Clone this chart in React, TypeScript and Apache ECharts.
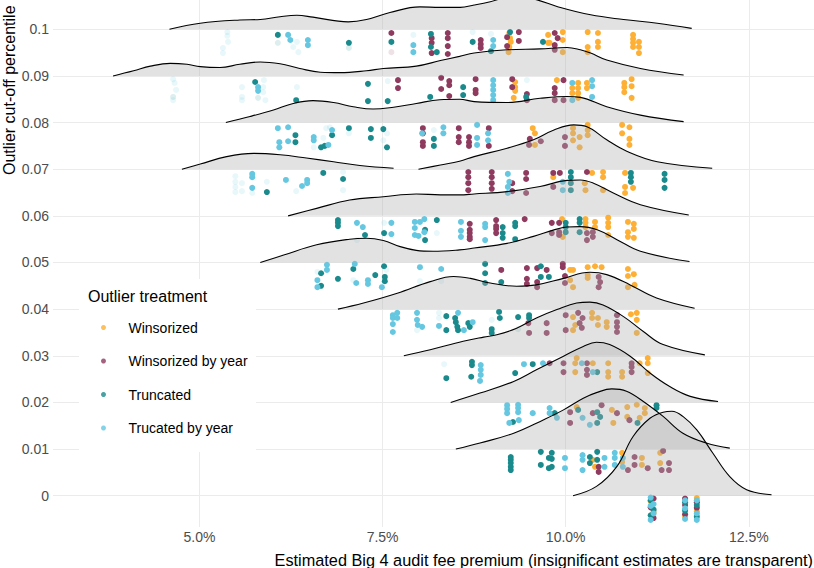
import React, { useEffect, useRef } from "react";
import * as echarts from "echarts";

const FONT = "'Liberation Sans', Arial, Helvetica, sans-serif";

// Outlier cut-off levels (rows), top to bottom
const levels = [0.1, 0.09, 0.08, 0.07, 0.06, 0.05, 0.04, 0.03, 0.02, 0.01, 0];
const levelLabels = ["0.1", "0.09", "0.08", "0.07", "0.06", "0.05", "0.04", "0.03", "0.02", "0.01", "0"];
const xTicks = [5, 7.5, 10, 12.5];

const treatments = ["Winsorized", "Winsorized by year", "Truncated", "Trucated by year"];
const treatmentColors = ["#FDB035", "#8F3B5F", "#1B8A8C", "#65C7E0"];

// Ridge densities: [estimate (%), height in row units]; null = density cut off
const density010 = [[4.59, 0], [5.01, 0.13], [5.55, 0.20], [5.83, 0.21], [6.10, 0.27], [6.33, 0.30], [6.55, 0.26], [7.03, 0.16], [7.28, 0.21], [7.60, 0.36], [8.01, 0.48], [8.28, 0.47], [8.56, 0.47], [8.75, 0.52], [8.97, 0.59], [9.3, 0.72], [9.61, 0.63], [9.88, 0.49], [10.34, 0.31], [10.79, 0.21], [11.25, 0.13], [11.72, 0.02]];
const density009 = [[3.82, 0], [4.10, 0.11], [4.33, 0.21], [4.60, 0.27], [4.83, 0.25], [5.01, 0.20], [5.28, 0.18], [5.55, 0.25], [5.83, 0.30], [6.10, 0.26], [6.37, 0.16], [6.65, 0.08], [6.92, 0.07], [7.28, 0.11], [7.51, 0.16], [7.96, 0.21], [8.29, 0.33], [8.55, 0.42], [8.75, 0.49], [9.20, 0.56], [9.65, 0.58], [10.02, 0.61], [10.20, 0.56], [10.34, 0.49], [10.56, 0.34], [11.02, 0.16], [11.61, 0.02]];
const density008 = [[5.36, 0], [5.69, 0.13], [6.01, 0.27], [6.28, 0.41], [6.55, 0.47], [6.83, 0.43], [7.10, 0.34], [7.37, 0.29], [7.65, 0.33], [7.96, 0.41], [8.28, 0.49], [8.55, 0.50], [8.75, 0.45], [9.20, 0.43], [9.65, 0.52], [10.02, 0.56], [10.20, 0.54], [10.56, 0.34], [11.02, 0.16], [11.61, 0.02]];
const density007 = [[4.76, 0], [5.01, 0.11], [5.37, 0.27], [5.74, 0.34], [6.10, 0.31], [6.46, 0.24], [6.83, 0.16], [7.19, 0.08], [7.65, 0.02], [7.82, null], [7.99, 0], [8.29, 0.09], [8.55, 0.17], [8.75, 0.27], [9.20, 0.45], [9.56, 0.63], [9.84, 0.84], [10.11, 0.95], [10.29, 0.91], [10.56, 0.63], [10.84, 0.38], [11.25, 0.16], [12.0, 0.02]];
const density006 = [[6.21, 0], [6.60, 0.16], [7.05, 0.34], [7.51, 0.41], [7.96, 0.47], [8.29, 0.45], [8.55, 0.45], [8.75, 0.47], [9.20, 0.52], [9.65, 0.63], [10.02, 0.76], [10.20, 0.77], [10.38, 0.70], [10.65, 0.49], [11.02, 0.24], [11.68, 0.02]];
const density005 = [[5.83, 0], [6.15, 0.16], [6.60, 0.38], [7.05, 0.50], [7.28, 0.52], [7.51, 0.47], [7.74, 0.34], [7.96, 0.26], [8.19, 0.24], [8.55, 0.27], [8.75, 0.31], [9.20, 0.41], [9.56, 0.56], [9.84, 0.70], [10.02, 0.76], [10.20, 0.77], [10.43, 0.70], [10.70, 0.49], [11.02, 0.24], [11.69, 0.02]];
const density004 = [[6.89, 0], [7.24, 0.13], [7.70, 0.34], [8.15, 0.59], [8.47, 0.70], [8.70, 0.66], [8.97, 0.56], [9.33, 0.49], [9.60, 0.52], [9.97, 0.66], [10.33, 0.79], [10.56, 0.74], [10.88, 0.52], [11.24, 0.24], [11.76, 0.02]];
const density003 = [[7.79, 0], [8.15, 0.13], [8.60, 0.31], [8.88, 0.40], [9.06, 0.45], [9.33, 0.59], [9.60, 0.81], [9.88, 0.99], [10.15, 1.13], [10.33, 1.15], [10.51, 1.09], [10.79, 0.84], [11.06, 0.52], [11.33, 0.24], [11.90, 0.02]];
const density002 = [[8.43, 0], [8.83, 0.20], [9.29, 0.45], [9.60, 0.70], [9.97, 0.99], [10.24, 1.20], [10.42, 1.29], [10.60, 1.24], [10.88, 0.99], [11.15, 0.63], [11.42, 0.34], [11.70, 0.13], [12.08, 0.02]];
const density001 = [[8.50, 0], [8.83, 0.13], [9.29, 0.34], [9.70, 0.63], [9.97, 0.84], [10.24, 1.09], [10.42, 1.21], [10.63, 1.29], [10.83, 1.24], [11.06, 1.02], [11.33, 0.70], [11.60, 0.34], [11.92, 0.13], [12.24, 0.02]];
const density000 = [[10.10, 0], [10.42, 0.20], [10.70, 0.63], [10.92, 1.27], [11.15, 1.66], [11.33, 1.79], [11.45, 1.81], [11.60, 1.70], [11.79, 1.41], [12.01, 0.91], [12.24, 0.41], [12.47, 0.13], [12.81, 0.02]];
const densities = [density010, density009, density008, density007, density006, density005, density004, density003, density002, density001, density000];

// Estimates: [cut-off level, estimate (%), jitter depth below row (row units), significant 1/0]
const winsorized = [
  [0.1, 9.23, 0.08, 1], [0.1, 9.24, 0.19, 1], [0.1, 9.25, 0.27, 1], [0.1, 9.23, 0.38, 1], [0.1, 9.22, 0.49, 1], [0.1, 9.76, 0.12, 1], [0.1, 9.76, 0.29, 1], [0.1, 9.96, 0.06, 1], [0.1, 9.96, 0.23, 1], [0.1, 9.78, 0.29, 1], [0.1, 9.96, 0.49, 1], [0.1, 10.30, 0.06, 1], [0.1, 10.30, 0.38, 1], [0.1, 10.30, 0.49, 1], [0.1, 10.44, 0.08, 1], [0.1, 10.44, 0.27, 1], [0.1, 10.44, 0.38, 1], [0.1, 10.92, 0.12, 1], [0.1, 10.92, 0.21, 1], [0.1, 10.92, 0.29, 1], [0.1, 10.92, 0.38, 1], [0.1, 11.00, 0.27, 1], [0.1, 11.00, 0.38, 1], [0.1, 11.00, 0.51, 1],
  [0.09, 9.31, 0.13, 1], [0.09, 9.31, 0.24, 1], [0.09, 9.31, 0.32, 1], [0.09, 9.29, 0.47, 1], [0.09, 9.88, 0.09, 1], [0.09, 10.09, 0.26, 1], [0.09, 10.09, 0.37, 1], [0.09, 10.17, 0.15, 1], [0.09, 10.17, 0.26, 1], [0.09, 10.17, 0.37, 1], [0.09, 10.17, 0.47, 1], [0.09, 10.29, 0.15, 1], [0.09, 10.29, 0.26, 1], [0.09, 10.80, 0.15, 1], [0.09, 10.80, 0.24, 1], [0.09, 10.80, 0.35, 1], [0.09, 10.90, 0.07, 1], [0.09, 10.90, 0.22, 1], [0.09, 10.90, 0.47, 1],
  [0.08, 9.55, 0.12, 1], [0.08, 9.58, 0.23, 1], [0.08, 9.58, 0.48, 1], [0.08, 10.10, 0.12, 1], [0.08, 10.10, 0.23, 1], [0.08, 10.10, 0.38, 1], [0.08, 10.19, 0.31, 1], [0.08, 10.19, 0.53, 1], [0.08, 10.30, 0.05, 1], [0.08, 10.30, 0.16, 1], [0.08, 10.30, 0.27, 1], [0.08, 10.77, 0.05, 1], [0.08, 10.77, 0.23, 1], [0.08, 10.87, 0.10, 1], [0.08, 10.87, 0.35, 1], [0.08, 10.87, 0.48, 1],
  [0.07, 9.83, 0.17, 1], [0.07, 10.36, 0.08, 1], [0.07, 10.26, 0.30, 1], [0.07, 10.27, 0.45, 1], [0.07, 10.51, 0.06, 1], [0.07, 10.51, 0.17, 1], [0.07, 10.51, 0.45, 1], [0.07, 10.81, 0.08, 1], [0.07, 10.81, 0.38, 1], [0.07, 10.81, 0.51, 1], [0.07, 10.92, 0.40, 1],
  [0.06, 9.95, 0.07, 1], [0.06, 9.96, 0.45, 1], [0.06, 10.27, 0.07, 1], [0.06, 10.27, 0.15, 1], [0.06, 10.27, 0.24, 1], [0.06, 10.40, 0.13, 1], [0.06, 10.40, 0.24, 1], [0.06, 10.58, 0.04, 1], [0.06, 10.58, 0.15, 1], [0.06, 10.58, 0.24, 1], [0.06, 10.58, 0.41, 1], [0.06, 10.85, 0.13, 1], [0.06, 10.85, 0.35, 1], [0.06, 10.85, 0.45, 1], [0.06, 10.93, 0.17, 1], [0.06, 10.93, 0.28, 1], [0.06, 10.93, 0.47, 1],
  [0.05, 10.06, 0.16, 1], [0.05, 10.10, 0.16, 1], [0.05, 10.06, 0.38, 1], [0.05, 10.10, 0.53, 1], [0.05, 10.30, 0.10, 1], [0.05, 10.30, 0.27, 1], [0.05, 10.30, 0.33, 1], [0.05, 10.40, 0.08, 1], [0.05, 10.49, 0.10, 1], [0.05, 10.85, 0.14, 1], [0.05, 10.85, 0.29, 1], [0.05, 10.85, 0.53, 1], [0.05, 10.93, 0.25, 1], [0.05, 10.94, 0.48, 1],
  [0.04, 10.10, 0.17, 1], [0.04, 10.13, 0.34, 1], [0.04, 10.10, 0.45, 1], [0.04, 10.36, 0.08, 1], [0.04, 10.36, 0.19, 1], [0.04, 10.44, 0.19, 1], [0.04, 10.44, 0.34, 1], [0.04, 10.56, 0.28, 1], [0.04, 10.56, 0.38, 1], [0.04, 10.89, 0.11, 1], [0.04, 10.97, 0.08, 1], [0.04, 10.97, 0.23, 1], [0.04, 10.97, 0.51, 1],
  [0.03, 10.15, 0.05, 1], [0.03, 10.13, 0.16, 1], [0.03, 10.13, 0.35, 1], [0.03, 10.37, 0.16, 1], [0.03, 10.58, 0.16, 1], [0.03, 10.58, 0.35, 1], [0.03, 10.58, 0.45, 1], [0.03, 10.77, 0.35, 1], [0.03, 10.77, 0.45, 1], [0.03, 11.01, 0.16, 1], [0.03, 11.12, 0.05, 1], [0.03, 11.12, 0.16, 1], [0.03, 11.12, 0.37, 1],
  [0.02, 10.15, 0.10, 1], [0.02, 10.63, 0.16, 1], [0.02, 10.65, 0.44, 1], [0.02, 10.84, 0.10, 1], [0.02, 10.84, 0.31, 1], [0.02, 10.97, 0.05, 1], [0.02, 11.08, 0.12, 1], [0.02, 11.08, 0.23, 1], [0.02, 11.01, 0.33, 1],
  [0.01, 10.37, 0.23, 1], [0.01, 10.40, 0.38, 1], [0.01, 10.77, 0.08, 1], [0.01, 10.77, 0.28, 1], [0.01, 11.04, 0.19, 1], [0.01, 11.04, 0.34, 1], [0.01, 11.29, 0.08, 1], [0.01, 11.29, 0.30, 1],
  [0, 11.16, 0.12, 1], [0, 11.20, 0.35, 1], [0, 11.63, 0.08, 1], [0, 11.63, 0.45, 1], [0, 11.79, 0.05, 1], [0, 11.79, 0.34, 1],
];
const winsorizedByYear = [
  [0.1, 7.62, 0.08, 1], [0.1, 7.62, 0.49, 0], [0.1, 8.17, 0.19, 1], [0.1, 8.17, 0.29, 1], [0.1, 8.17, 0.51, 1], [0.1, 8.39, 0.08, 1], [0.1, 8.39, 0.19, 1], [0.1, 8.39, 0.36, 1], [0.1, 8.39, 0.53, 1], [0.1, 8.84, 0.23, 1], [0.1, 8.84, 0.32, 1], [0.1, 8.84, 0.40, 1], [0.1, 9.20, 0.17, 1], [0.1, 9.20, 0.36, 1], [0.1, 9.36, 0.06, 1], [0.1, 9.36, 0.25, 1], [0.1, 9.85, 0.08, 1], [0.1, 9.89, 0.19, 1], [0.1, 9.85, 0.34, 1], [0.1, 9.85, 0.44, 1],
  [0.09, 7.71, 0.09, 1], [0.09, 7.71, 0.26, 1], [0.09, 8.30, 0.04, 1], [0.09, 8.30, 0.28, 1], [0.09, 8.41, 0.11, 1], [0.09, 8.41, 0.20, 1], [0.09, 8.41, 0.43, 1], [0.09, 8.77, 0.07, 1], [0.09, 8.77, 0.30, 1], [0.09, 8.77, 0.37, 1], [0.09, 9.27, 0.07, 1], [0.09, 9.27, 0.24, 1], [0.09, 9.47, 0.39, 1], [0.09, 9.47, 0.52, 1], [0.09, 9.97, 0.09, 1], [0.09, 9.85, 0.26, 1], [0.09, 9.85, 0.37, 1], [0.09, 9.85, 0.52, 1], [0.09, 9.97, 0.52, 1],
  [0.08, 8.05, 0.12, 1], [0.08, 8.05, 0.23, 1], [0.08, 8.05, 0.42, 1], [0.08, 8.05, 0.50, 1], [0.08, 8.54, 0.12, 1], [0.08, 8.54, 0.31, 1], [0.08, 8.54, 0.42, 1], [0.08, 8.68, 0.31, 1], [0.08, 8.68, 0.42, 1], [0.08, 8.68, 0.50, 1], [0.08, 8.95, 0.12, 1], [0.08, 8.95, 0.50, 1], [0.08, 9.51, 0.35, 1], [0.08, 9.50, 0.48, 1], [0.08, 9.66, 0.40, 1], [0.08, 9.99, 0.31, 1], [0.08, 9.99, 0.50, 1],
  [0.07, 8.67, 0.06, 1], [0.07, 8.67, 0.17, 1], [0.07, 8.67, 0.30, 1], [0.07, 8.67, 0.45, 1], [0.07, 8.99, 0.06, 1], [0.07, 8.99, 0.17, 1], [0.07, 8.99, 0.30, 1], [0.07, 8.99, 0.42, 1], [0.07, 9.27, 0.30, 1], [0.07, 9.27, 0.47, 1], [0.07, 9.46, 0.08, 1], [0.07, 9.46, 0.21, 1], [0.07, 9.46, 0.51, 1], [0.07, 9.83, 0.08, 1], [0.07, 9.92, 0.08, 1], [0.07, 9.83, 0.38, 1], [0.07, 10.29, 0.06, 1],
  [0.06, 8.69, 0.17, 1], [0.06, 8.69, 0.30, 1], [0.06, 8.69, 0.37, 1], [0.06, 8.69, 0.45, 1], [0.06, 8.69, 0.50, 1], [0.06, 9.05, 0.09, 1], [0.06, 9.05, 0.22, 1], [0.06, 9.05, 0.28, 1], [0.06, 9.05, 0.37, 1], [0.06, 9.44, 0.07, 1], [0.06, 9.81, 0.15, 1], [0.06, 9.81, 0.37, 1], [0.06, 9.91, 0.15, 1], [0.06, 9.91, 0.35, 1], [0.06, 9.91, 0.41, 1], [0.06, 10.29, 0.37, 1], [0.06, 10.29, 0.52, 1], [0.06, 10.37, 0.35, 1], [0.06, 10.37, 0.45, 1],
  [0.05, 9.12, 0.16, 1], [0.05, 9.47, 0.12, 1], [0.05, 9.47, 0.35, 1], [0.05, 9.47, 0.46, 1], [0.05, 9.61, 0.12, 1], [0.05, 9.61, 0.42, 1], [0.05, 9.61, 0.53, 1], [0.05, 9.74, 0.16, 1], [0.05, 9.96, 0.03, 1], [0.05, 9.96, 0.10, 1], [0.05, 9.99, 0.29, 1], [0.05, 9.99, 0.44, 1], [0.05, 10.45, 0.31, 1], [0.05, 10.47, 0.42, 1], [0.05, 10.45, 0.53, 1],
  [0.04, 9.49, 0.30, 1], [0.04, 9.50, 0.51, 1], [0.04, 9.74, 0.30, 1], [0.04, 9.74, 0.51, 1], [0.04, 10.00, 0.13, 1], [0.04, 10.17, 0.08, 1], [0.04, 10.23, 0.19, 1], [0.04, 10.19, 0.30, 1], [0.04, 10.22, 0.40, 1], [0.04, 10.00, 0.45, 1], [0.04, 10.70, 0.13, 1], [0.04, 10.70, 0.28, 1], [0.04, 10.70, 0.38, 1], [0.04, 10.70, 0.49, 1],
  [0.03, 9.78, 0.16, 1], [0.03, 9.97, 0.16, 1], [0.03, 9.97, 0.35, 1], [0.03, 10.29, 0.16, 1], [0.03, 10.29, 0.30, 1], [0.03, 10.29, 0.41, 1], [0.03, 10.90, 0.16, 1], [0.03, 10.90, 0.24, 1], [0.03, 10.90, 0.35, 1],
  [0.02, 10.06, 0.21, 1], [0.02, 10.06, 0.44, 1], [0.02, 10.37, 0.23, 1], [0.02, 10.70, 0.23, 1], [0.02, 10.49, 0.06, 1], [0.02, 10.87, 0.38, 1],
  [0.01, 10.45, 0.38, 1], [0.01, 10.45, 0.49, 1], [0.01, 10.85, 0.45, 1], [0.01, 10.94, 0.17, 1], [0.01, 10.94, 0.34, 1], [0.01, 11.12, 0.41, 1], [0.01, 11.33, 0.04, 1], [0.01, 11.31, 0.45, 1], [0.01, 11.41, 0.30, 1], [0.01, 11.41, 0.45, 1],
  [0, 11.20, 0.06, 1], [0, 11.16, 0.25, 1], [0, 11.20, 0.48, 1], [0, 11.63, 0.06, 1], [0, 11.63, 0.20, 1], [0, 11.63, 0.40, 1], [0, 11.79, 0.14, 1], [0, 11.79, 0.26, 1],
];
const truncated = [
  [0.1, 6.07, 0.12, 1], [0.1, 6.07, 0.29, 0], [0.1, 7.04, 0.29, 1], [0.1, 7.04, 0.40, 0], [0.1, 7.62, 0.27, 1], [0.1, 8.16, 0.10, 1], [0.1, 8.16, 0.38, 1], [0.1, 8.24, 0.49, 1], [0.1, 8.73, 0.27, 1], [0.1, 8.98, 0.47, 1], [0.1, 9.24, 0.06, 1], [0.1, 9.69, 0.27, 1],
  [0.09, 4.64, 0.45, 0], [0.09, 5.76, 0.13, 1], [0.09, 5.80, 0.47, 0], [0.09, 6.32, 0.52, 1], [0.09, 7.30, 0.17, 1], [0.09, 7.30, 0.54, 1], [0.09, 7.57, 0.54, 1], [0.09, 8.15, 0.45, 1], [0.09, 8.60, 0.24, 1], [0.09, 8.60, 0.41, 1], [0.09, 9.46, 0.45, 1],
  [0.08, 6.31, 0.27, 1], [0.08, 6.31, 0.42, 1], [0.08, 6.66, 0.53, 1], [0.08, 6.71, 0.50, 1], [0.08, 6.81, 0.27, 1], [0.08, 7.04, 0.12, 1], [0.08, 7.34, 0.14, 1], [0.08, 7.34, 0.33, 1], [0.08, 7.51, 0.14, 1], [0.08, 7.56, 0.53, 1], [0.08, 8.20, 0.35, 1], [0.08, 8.20, 0.50, 1],
  [0.07, 5.92, 0.49, 1], [0.07, 6.69, 0.08, 1], [0.07, 6.96, 0.21, 1], [0.07, 10.07, 0.06, 1], [0.07, 10.07, 0.17, 1], [0.07, 10.07, 0.30, 1], [0.07, 10.07, 0.45, 1], [0.07, 10.89, 0.08, 1], [0.07, 10.89, 0.17, 1], [0.07, 10.89, 0.27, 1], [0.07, 11.35, 0.10, 1], [0.07, 11.35, 0.23, 1], [0.07, 11.35, 0.40, 1],
  [0.06, 6.89, 0.09, 1], [0.06, 6.89, 0.15, 1], [0.06, 6.89, 0.22, 1], [0.06, 7.26, 0.41, 1], [0.06, 7.52, 0.37, 1], [0.06, 8.08, 0.30, 1], [0.06, 8.08, 0.52, 1], [0.06, 8.24, 0.09, 1], [0.06, 9.14, 0.24, 1], [0.06, 9.14, 0.37, 1], [0.06, 9.14, 0.47, 1], [0.06, 9.31, 0.15, 1], [0.06, 9.31, 0.22, 1], [0.06, 9.31, 0.50, 1], [0.06, 10.00, 0.15, 1], [0.06, 10.00, 0.24, 1], [0.06, 10.00, 0.35, 1], [0.06, 10.19, 0.07, 1], [0.06, 10.19, 0.15, 1], [0.06, 10.19, 0.35, 1],
  [0.05, 6.66, 0.23, 1], [0.05, 6.66, 0.50, 1], [0.05, 6.89, 0.35, 1], [0.05, 7.10, 0.14, 1], [0.05, 7.40, 0.27, 1], [0.05, 7.52, 0.08, 1], [0.05, 7.53, 0.31, 1], [0.05, 7.53, 0.40, 1], [0.05, 8.90, 0.03, 1], [0.05, 8.90, 0.23, 1], [0.05, 8.90, 0.44, 1], [0.05, 9.12, 0.42, 1], [0.05, 9.66, 0.08, 1], [0.05, 9.66, 0.31, 1], [0.05, 9.77, 0.31, 1],
  [0.04, 8.37, 0.15, 1], [0.04, 8.37, 0.45, 1], [0.04, 8.49, 0.19, 1], [0.04, 8.50, 0.28, 1], [0.04, 8.52, 0.38, 1], [0.04, 8.53, 0.45, 1], [0.04, 8.67, 0.30, 1], [0.04, 8.69, 0.38, 1], [0.04, 8.99, 0.43, 1], [0.04, 8.99, 0.51, 1], [0.04, 9.09, 0.06, 1], [0.04, 9.10, 0.19, 1], [0.04, 9.35, 0.17, 1], [0.04, 9.50, 0.13, 1], [0.04, 9.50, 0.19, 1], [0.04, 9.35, 0.43, 0],
  [0.03, 8.37, 0.48, 1], [0.03, 8.72, 0.13, 1], [0.03, 8.72, 0.20, 1], [0.03, 8.71, 0.45, 1], [0.03, 9.31, 0.37, 1], [0.03, 9.55, 0.18, 1], [0.03, 10.43, 0.35, 1],
  [0.02, 9.28, 0.42, 1], [0.02, 9.85, 0.23, 1], [0.02, 10.17, 0.16, 1], [0.02, 10.43, 0.21, 1], [0.02, 10.47, 0.31, 1], [0.02, 10.43, 0.44, 1], [0.02, 10.98, 0.44, 1], [0.02, 11.24, 0.06, 1], [0.02, 11.24, 0.12, 1],
  [0.01, 9.25, 0.17, 1], [0.01, 9.25, 0.23, 1], [0.01, 9.25, 0.30, 1], [0.01, 9.25, 0.38, 1], [0.01, 9.25, 0.45, 1], [0.01, 9.66, 0.06, 1], [0.01, 9.66, 0.34, 1], [0.01, 9.77, 0.19, 1], [0.01, 9.77, 0.41, 1], [0.01, 9.81, 0.08, 1], [0.01, 9.81, 0.21, 1], [0.01, 9.81, 0.38, 1], [0.01, 10.33, 0.17, 1], [0.01, 10.33, 0.30, 1], [0.01, 10.43, 0.06, 1], [0.01, 10.43, 0.23, 1],
  [0, 11.16, 0.10, 1], [0, 11.20, 0.30, 1], [0, 11.16, 0.42, 1], [0, 11.63, 0.14, 1], [0, 11.63, 0.32, 1], [0, 11.79, 0.20, 1], [0, 11.79, 0.45, 1],
];
const truncatedByYear = [
  [0.1, 5.38, 0.06, 0], [0.1, 5.38, 0.14, 0], [0.1, 5.39, 0.27, 0], [0.1, 5.32, 0.40, 0], [0.1, 5.32, 0.51, 0], [0.1, 6.21, 0.12, 1], [0.1, 6.24, 0.23, 1], [0.1, 6.28, 0.38, 0], [0.1, 6.35, 0.49, 0], [0.1, 6.33, 0.27, 0], [0.1, 6.48, 0.23, 1], [0.1, 6.48, 0.34, 1], [0.1, 7.92, 0.12, 0], [0.1, 7.92, 0.34, 1], [0.1, 7.92, 0.49, 1], [0.1, 8.73, 0.06, 0], [0.1, 8.98, 0.10, 0], [0.1, 9.01, 0.23, 1], [0.1, 9.01, 0.36, 1],
  [0.09, 4.64, 0.07, 0], [0.09, 4.66, 0.15, 0], [0.09, 4.68, 0.30, 0], [0.09, 4.64, 0.52, 0], [0.09, 5.80, 0.24, 1], [0.09, 5.80, 0.32, 1], [0.09, 5.58, 0.24, 0], [0.09, 5.58, 0.45, 0], [0.09, 5.58, 0.52, 0], [0.09, 5.87, 0.24, 0], [0.09, 5.87, 0.35, 0], [0.09, 5.90, 0.52, 0], [0.09, 5.88, 0.09, 0], [0.09, 6.33, 0.24, 0], [0.09, 7.57, 0.11, 0], [0.09, 9.01, 0.09, 1], [0.09, 9.01, 0.20, 1], [0.09, 9.01, 0.30, 1], [0.09, 9.01, 0.41, 1], [0.09, 9.01, 0.52, 1], [0.09, 9.47, 0.09, 0], [0.09, 10.09, 0.15, 1], [0.09, 10.36, 0.09, 1], [0.09, 10.36, 0.22, 1], [0.09, 10.36, 0.45, 1], [0.09, 10.09, 0.52, 1],
  [0.08, 6.07, 0.12, 1], [0.08, 6.09, 0.42, 1], [0.08, 6.09, 0.53, 1], [0.08, 6.21, 0.10, 1], [0.08, 6.21, 0.40, 1], [0.08, 6.56, 0.31, 1], [0.08, 6.56, 0.38, 1], [0.08, 6.56, 0.53, 0], [0.08, 6.69, 0.33, 0], [0.08, 6.76, 0.48, 1], [0.08, 6.78, 0.10, 0], [0.08, 6.81, 0.16, 1], [0.08, 6.73, 0.12, 0], [0.08, 7.04, 0.23, 0], [0.08, 7.56, 0.23, 0], [0.08, 7.51, 0.38, 0], [0.08, 8.04, 0.23, 1], [0.08, 8.20, 0.16, 0], [0.08, 8.33, 0.10, 1], [0.08, 8.33, 0.23, 1], [0.08, 8.79, 0.05, 1], [0.08, 8.79, 0.33, 1], [0.08, 8.79, 0.48, 1], [0.08, 8.94, 0.23, 1], [0.08, 8.94, 0.38, 1],
  [0.07, 5.49, 0.15, 0], [0.07, 5.49, 0.27, 0], [0.07, 5.49, 0.38, 0], [0.07, 5.49, 0.49, 0], [0.07, 5.58, 0.30, 0], [0.07, 5.58, 0.47, 0], [0.07, 5.72, 0.10, 1], [0.07, 5.72, 0.17, 1], [0.07, 5.72, 0.40, 1], [0.07, 5.72, 0.51, 0], [0.07, 5.92, 0.27, 0], [0.07, 6.18, 0.23, 1], [0.07, 6.32, 0.47, 0], [0.07, 6.40, 0.36, 1], [0.07, 6.47, 0.23, 1], [0.07, 6.47, 0.30, 1], [0.07, 6.96, 0.06, 0], [0.07, 6.96, 0.45, 0], [0.07, 9.21, 0.10, 1], [0.07, 9.23, 0.27, 1], [0.07, 9.21, 0.38, 1], [0.07, 9.21, 0.51, 1], [0.07, 9.96, 0.27, 1], [0.07, 9.96, 0.45, 1],
  [0.06, 7.15, 0.15, 1], [0.06, 7.23, 0.24, 1], [0.06, 7.15, 0.52, 0], [0.06, 7.52, 0.15, 0], [0.06, 7.62, 0.15, 1], [0.06, 7.62, 0.39, 1], [0.06, 7.94, 0.13, 1], [0.06, 7.94, 0.26, 1], [0.06, 8.01, 0.13, 1], [0.06, 7.94, 0.41, 1], [0.06, 7.99, 0.43, 1], [0.06, 8.07, 0.07, 1], [0.06, 8.07, 0.35, 1], [0.06, 8.24, 0.37, 0], [0.06, 8.57, 0.13, 1], [0.06, 8.57, 0.32, 1], [0.06, 8.57, 0.45, 1], [0.06, 8.90, 0.17, 1], [0.06, 8.90, 0.24, 1], [0.06, 8.90, 0.52, 1],
  [0.05, 6.61, 0.20, 0], [0.05, 6.61, 0.38, 1], [0.05, 6.61, 0.53, 1], [0.05, 6.74, 0.05, 1], [0.05, 6.74, 0.16, 1], [0.05, 7.12, 0.03, 1], [0.05, 7.14, 0.44, 1], [0.05, 7.10, 0.38, 0], [0.05, 7.30, 0.38, 1], [0.05, 7.30, 0.46, 1], [0.05, 7.49, 0.53, 1], [0.05, 7.55, 0.16, 0], [0.05, 8.01, 0.10, 1], [0.05, 8.01, 0.40, 0], [0.05, 8.30, 0.14, 1], [0.05, 8.30, 0.40, 0],
  [0.04, 7.64, 0.13, 1], [0.04, 7.64, 0.19, 1], [0.04, 7.64, 0.32, 1], [0.04, 7.64, 0.49, 1], [0.04, 7.70, 0.08, 1], [0.04, 7.70, 0.19, 1], [0.04, 7.97, 0.08, 1], [0.04, 7.97, 0.23, 1], [0.04, 7.98, 0.34, 1], [0.04, 8.04, 0.38, 1], [0.04, 7.97, 0.45, 0], [0.04, 8.27, 0.08, 0], [0.04, 8.27, 0.19, 0], [0.04, 8.27, 0.36, 1], [0.04, 8.53, 0.08, 1], [0.04, 8.61, 0.45, 1], [0.04, 8.73, 0.28, 1], [0.04, 8.99, 0.23, 0],
  [0.03, 8.34, 0.18, 0], [0.03, 8.84, 0.20, 1], [0.03, 8.84, 0.30, 1], [0.03, 8.84, 0.41, 1], [0.03, 8.83, 0.54, 1], [0.03, 9.43, 0.18, 1], [0.03, 9.69, 0.16, 1], [0.03, 10.22, 0.16, 1], [0.03, 10.37, 0.35, 1],
  [0.02, 9.20, 0.06, 1], [0.02, 9.20, 0.14, 1], [0.02, 9.20, 0.23, 1], [0.02, 9.23, 0.44, 1], [0.02, 9.35, 0.05, 1], [0.02, 9.35, 0.12, 1], [0.02, 9.35, 0.21, 1], [0.02, 9.36, 0.38, 1], [0.02, 9.55, 0.23, 1], [0.02, 9.78, 0.12, 1], [0.02, 9.78, 0.23, 1], [0.02, 9.88, 0.33, 1], [0.02, 10.23, 0.33, 1], [0.02, 10.33, 0.48, 1],
  [0.01, 9.99, 0.19, 1], [0.01, 9.99, 0.41, 1], [0.01, 10.23, 0.13, 1], [0.01, 10.23, 0.23, 1], [0.01, 10.23, 0.45, 1], [0.01, 10.53, 0.19, 1], [0.01, 10.53, 0.38, 1], [0.01, 10.67, 0.08, 1], [0.01, 10.67, 0.19, 1], [0.01, 10.67, 0.34, 1], [0.01, 10.78, 0.19, 1], [0.01, 10.78, 0.38, 1],
  [0, 11.16, 0.04, 1], [0, 11.20, 0.18, 1], [0, 11.16, 0.22, 1], [0, 11.20, 0.38, 1], [0, 11.16, 0.52, 1], [0, 11.63, 0.10, 1], [0, 11.63, 0.27, 1], [0, 11.63, 0.50, 1], [0, 11.79, 0.10, 1], [0, 11.79, 0.38, 1], [0, 11.79, 0.52, 1],
];
const pointSets = [winsorized, winsorizedByYear, truncated, truncatedByYear];

const ROW = 0.01;

function buildOption() {
  const series: any[] = [];
  levels.forEach((lv, i) => {
    series.push({
      type: "line",
      name: "ridge " + levelLabels[i],
      data: densities[i].map(([x, h]) => [x, h === null ? "-" : lv + (h as number) * ROW]),
      smooth: 0.4,
      showSymbol: false,
      symbol: "none",
      connectNulls: false,
      clip: true,
      silent: true,
      lineStyle: { color: "#000", width: 1.1 },
      areaStyle: { color: "rgba(175,175,175,0.52)", origin: lv },
    });
    pointSets.forEach((set, k) => {
      series.push({
        type: "scatter",
        name: treatments[k],
        symbol: "circle",
        symbolSize: 6,
        silent: true,
        itemStyle: { color: treatmentColors[k] },
        data: set
          .filter((p) => p[0] === lv)
          .map((p) => ({ value: [p[1], lv - p[2] * ROW], itemStyle: { opacity: p[3] ? 1 : 0.15 } })),
      });
    });
  });

  return {
    animation: false,
    textStyle: { fontFamily: FONT },
    grid: { left: 53, right: 0, top: 0, bottom: 41, containLabel: false },
    xAxis: {
      type: "value",
      min: 3.0,
      max: 13.39,
      axisLine: { show: false },
      axisTick: { show: false, customValues: xTicks },
      axisLabel: {
        customValues: xTicks,
        formatter: (v: number) => v.toFixed(1) + "%",
        fontSize: 14,
        color: "#4d4d4d",
        margin: 3,
        fontFamily: FONT,
      },
      splitLine: { show: true, lineStyle: { color: "#ebebeb", width: 1 } },
    },
    yAxis: {
      type: "value",
      min: -0.00671,
      max: 0.10628,
      axisLine: { show: false },
      axisTick: { show: false, customValues: levels },
      axisLabel: {
        customValues: levels,
        formatter: (v: number) => {
          let best = 0;
          levels.forEach((l, j) => {
            if (Math.abs(l - v) < Math.abs(levels[best] - v)) best = j;
          });
          return levelLabels[best];
        },
        fontSize: 14,
        color: "#4d4d4d",
        margin: 4,
        fontFamily: FONT,
      },
      splitLine: { show: true, lineStyle: { color: "#ebebeb", width: 1 } },
    },
    legend: {
      orient: "vertical",
      left: 101,
      top: 319,
      padding: 0,
      itemWidth: 40,
      itemHeight: 5,
      itemGap: 16.5,
      selectedMode: false,
      z: 20,
      data: treatments.map((name) => ({ name, icon: "circle" })),
      textStyle: { fontSize: 14, color: "#000", fontFamily: FONT, lineHeight: 17 },
    },
    graphic: [
      {
        type: "rect",
        z: 10,
        silent: true,
        shape: { x: 79, y: 279, width: 177, height: 173 },
        style: { fill: "#fff" },
      },
      {
        type: "text",
        z: 21,
        x: 88,
        y: 296,
        silent: true,
        style: {
          text: "Outlier treatment",
          fontSize: 16,
          fontFamily: FONT,
          fill: "#000",
          align: "left",
          verticalAlign: "middle",
          textAlign: "left",
          textVerticalAlign: "middle",
        },
      },
      {
        type: "text",
        z: 21,
        x: 9,
        y: 175,
        rotation: Math.PI / 2,
        silent: true,
        style: {
          text: "Outlier cut-off percentile",
          fontSize: 16,
          fontFamily: FONT,
          fill: "#000",
          align: "left",
          verticalAlign: "middle",
          textAlign: "left",
          textVerticalAlign: "middle",
        },
      },
      {
        type: "text",
        z: 21,
        x: 813,
        y: 560,
        silent: true,
        style: {
          text: "Estimated Big 4 audit fee premium (insignificant estimates are transparent)",
          fontSize: 16.3,
          fontFamily: FONT,
          fill: "#000",
          align: "right",
          verticalAlign: "middle",
          textAlign: "right",
          textVerticalAlign: "middle",
        },
      },
    ],
    series,
  };
}

export default function App() {
  const ref = useRef<HTMLDivElement>(null);
  useEffect(() => {
    if (!ref.current) return;
    const chart = echarts.init(ref.current, null, { renderer: "svg" });
    chart.setOption(buildOption() as any);
    return () => chart.dispose();
  }, []);
  return (
    <div
      ref={ref}
      style={{ position: "fixed", left: 0, top: 0, width: 814, height: 568, background: "#fff" }}
    />
  );
}
